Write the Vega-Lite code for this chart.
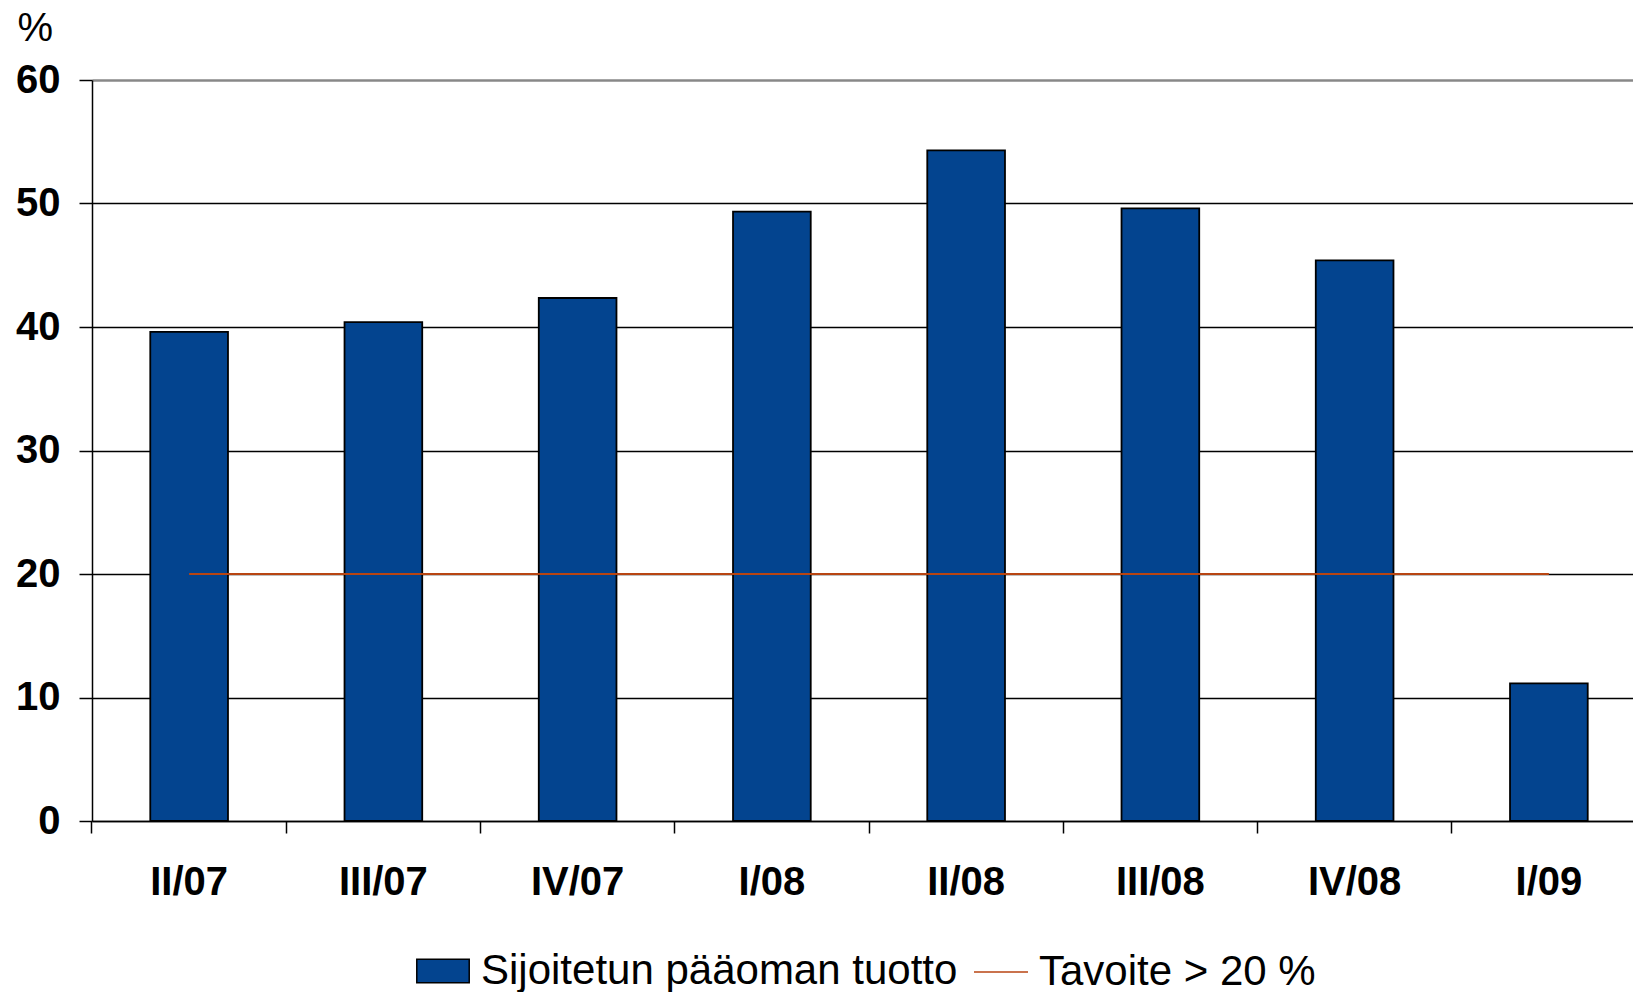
{
  "$schema": "https://vega.github.io/schema/vega-lite/v6.json",
  "autosize": {"type": "none"},
  "padding": {"left": 92, "top": 80, "right": 0, "bottom": 171},
  "width": 1541,
  "height": 741,
  "background": "white",
  "config": {"view": {"stroke": null}, "font": "Liberation Sans"},
  "data": {
    "values": [
      {"quarter": "II/07", "value": 39.6, "target": 20, "s1": "Sijoitetun pääoman tuotto", "s2": "Tavoite > 20 %"},
      {"quarter": "III/07", "value": 40.4, "target": 20, "s1": "Sijoitetun pääoman tuotto", "s2": "Tavoite > 20 %"},
      {"quarter": "IV/07", "value": 42.35, "target": 20, "s1": "Sijoitetun pääoman tuotto", "s2": "Tavoite > 20 %"},
      {"quarter": "I/08", "value": 49.35, "target": 20, "s1": "Sijoitetun pääoman tuotto", "s2": "Tavoite > 20 %"},
      {"quarter": "II/08", "value": 54.3, "target": 20, "s1": "Sijoitetun pääoman tuotto", "s2": "Tavoite > 20 %"},
      {"quarter": "III/08", "value": 49.6, "target": 20, "s1": "Sijoitetun pääoman tuotto", "s2": "Tavoite > 20 %"},
      {"quarter": "IV/08", "value": 45.4, "target": 20, "s1": "Sijoitetun pääoman tuotto", "s2": "Tavoite > 20 %"},
      {"quarter": "I/09", "value": 11.15, "target": 20, "s1": "Sijoitetun pääoman tuotto", "s2": "Tavoite > 20 %"}
    ]
  },
  "encoding": {
    "x": {
      "field": "quarter",
      "type": "nominal",
      "sort": null,
      "scale": {"range": [0, 1554], "paddingInner": 0.6, "paddingOuter": 0.3},
      "axis": {
        "title": null,
        "bandPosition": -0.75,
        "labelAngle": 0,
        "labelFont": "Liberation Sans",
        "labelFontWeight": "bold",
        "labelFontSize": 40,
        "labelColor": "black",
        "labelBaseline": "top",
        "labelPadding": 29,
        "tickSize": 12,
        "tickColor": "black",
        "tickWidth": 1.5,
        "domainColor": "black",
        "domainWidth": 1.5,
        "grid": false
      }
    }
  },
  "layer": [
    {
      "mark": {"type": "bar", "stroke": "black", "strokeWidth": 1.8},
      "encoding": {
        "y": {
          "field": "value",
          "type": "quantitative",
          "scale": {"domain": [0, 60], "nice": false},
          "axis": {
            "title": "%",
            "titleAngle": 0,
            "titleAlign": "left",
            "titleBaseline": "alphabetic",
            "titleX": -75,
            "titleY": -40,
            "titleFont": "Liberation Sans",
            "titleFontWeight": "normal",
            "titleFontSize": 40,
            "titleColor": "black",
            "values": [0, 10, 20, 30, 40, 50, 60],
            "labelFont": "Liberation Sans",
            "labelFontWeight": "bold",
            "labelFontSize": 40,
            "labelColor": "black",
            "labelPadding": 19,
            "tickSize": 13,
            "tickColor": "black",
            "tickWidth": 1.5,
            "domainColor": "black",
            "domainWidth": 1.5,
            "grid": true,
            "gridColor": {"condition": {"test": "datum.value === 60", "value": "#888888"}, "value": "black"},
            "gridWidth": {"condition": {"test": "datum.value === 60", "value": 2.5}, "value": 1.5},
            "gridOpacity": 1
          }
        },
        "color": {
          "field": "s1",
          "type": "nominal",
          "scale": {"range": ["#03448F"]},
          "legend": {
            "title": null,
            "orient": "none",
            "legendX": 324,
            "legendY": 864,
            "symbolType": "M-1,-0.45H1V0.45H-1Z",
            "symbolSize": 2750,
            "symbolStrokeColor": "black",
            "symbolStrokeWidth": 1.5,
            "symbolOpacity": 1,
            "labelFont": "Liberation Sans",
            "labelFontSize": 42,
            "labelColor": "black",
            "labelOffset": 11,
            "labelLimit": 1000
          }
        }
      }
    },
    {
      "mark": {"type": "line", "strokeWidth": 1.8},
      "encoding": {
        "y": {"field": "target", "type": "quantitative"},
        "stroke": {
          "field": "s2",
          "type": "nominal",
          "scale": {"range": ["#B84512"]},
          "legend": {
            "title": null,
            "orient": "none",
            "legendX": 881,
            "legendY": 864,
            "symbolType": "stroke",
            "symbolSize": 2916,
            "symbolStrokeWidth": 1.5,
            "labelFont": "Liberation Sans",
            "labelFontSize": 42,
            "labelColor": "black",
            "labelOffset": 10,
            "labelLimit": 1000,
            "encode": {"symbols": {"update": {"stroke": {"value": "#F07A30"}}}}
          }
        }
      }
    }
  ]
}
